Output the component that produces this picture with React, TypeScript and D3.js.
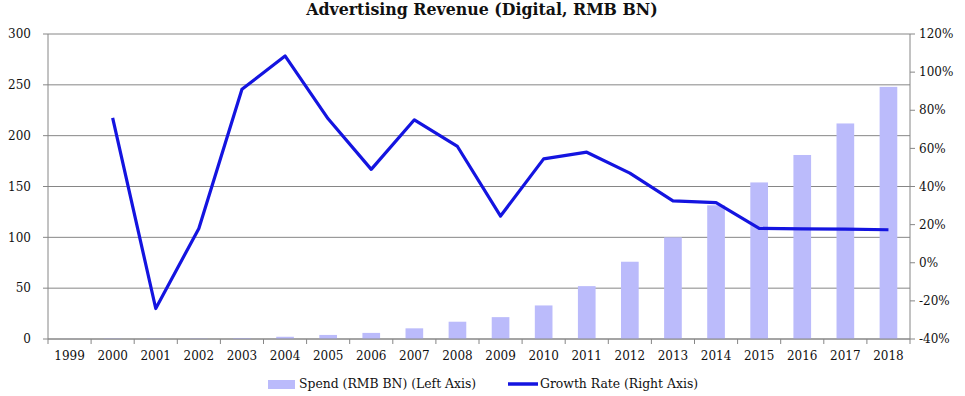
import React from "react";
import * as d3 from "d3";

const years = [
  "1999", "2000", "2001", "2002", "2003", "2004", "2005", "2006", "2007", "2008",
  "2009", "2010", "2011", "2012", "2013", "2014", "2015", "2016", "2017", "2018",
];
const spend = [
  0.1, 0.5, 0.4, 0.5, 1, 2.2, 4, 6, 10.5, 17,
  21.5, 33, 52, 76, 100, 131.5, 154, 181, 212, 248,
];
const growth: (number | null)[] = [
  null, 76, -24, 18, 91, 108.5, 75.5, 49, 75, 61,
  24.5, 54.5, 58, 47, 32.5, 31.5, 18, 17.8, 17.6, 17.3,
];
const leftTicks = [0, 50, 100, 150, 200, 250, 300];
const rightTicks = [-40, -20, 0, 20, 40, 60, 80, 100, 120];

const W = 965;
const H = 396;
const margin = { top: 34, right: 55, bottom: 57, left: 48 };
const font = "'DejaVu Serif', Georgia, serif";
const barColor = "#bbbbfb";
const lineColor = "#1414e0";
const axisColor = "#868686";

export default function App() {
  const x = d3
    .scaleBand()
    .domain(years)
    .range([margin.left, W - margin.right]);
  const yL = d3.scaleLinear().domain([0, 300]).range([H - margin.bottom, margin.top]);
  const yR = d3.scaleLinear().domain([-40, 120]).range([H - margin.bottom, margin.top]);
  const barW = x.bandwidth() * 0.41;

  const pts = years
    .map((y, i) => ({ y, v: growth[i] }))
    .filter((d) => d.v !== null) as { y: string; v: number }[];
  const line = d3
    .line<{ y: string; v: number }>()
    .x((d) => (x(d.y) as number) + x.bandwidth() / 2)
    .y((d) => yR(d.v));

  const x0 = margin.left;
  const x1 = W - margin.right;
  const yBase = H - margin.bottom;

  return (
    <svg
      width={W}
      height={H}
      style={{ position: "absolute", left: 0, top: 0, background: "#fff" }}
      fontFamily={font}
    >
      <text x={482} y={15} textAnchor="middle" fontSize={15.8} fontWeight="bold" fill="#111">
        Advertising Revenue (Digital, RMB BN)
      </text>

      {/* gridlines */}
      {leftTicks.map((t) => (
        <line key={"g" + t} x1={x0} x2={x1} y1={yL(t)} y2={yL(t)} stroke={axisColor} strokeWidth={1} />
      ))}

      {/* bars */}
      {years.map((y, i) => (
        <rect
          key={y}
          x={(x(y) as number) + (x.bandwidth() - barW) / 2}
          y={yL(spend[i])}
          width={barW}
          height={yBase - yL(spend[i])}
          fill={barColor}
        />
      ))}

      {/* left axis */}
      <line x1={x0} x2={x0} y1={margin.top} y2={yBase} stroke={axisColor} />
      {leftTicks.map((t) => (
        <g key={"l" + t}>
          <line x1={x0 - 5} x2={x0} y1={yL(t)} y2={yL(t)} stroke={axisColor} />
          <text x={31} y={yL(t)} dy="0.35em" textAnchor="end" fontSize={12} fill="#111">
            {t}
          </text>
        </g>
      ))}

      {/* right axis */}
      <line x1={x1} x2={x1} y1={margin.top} y2={yBase} stroke={axisColor} />
      {rightTicks.map((t) => (
        <g key={"r" + t}>
          <line x1={x1} x2={x1 + 5} y1={yR(t)} y2={yR(t)} stroke={axisColor} />
          <text x={919} y={yR(t)} dy="0.35em" textAnchor="start" fontSize={12} fill="#111">
            {t + "%"}
          </text>
        </g>
      ))}

      {/* x axis */}
      <line x1={x0} x2={x1} y1={yBase} y2={yBase} stroke={axisColor} />
      {years.map((y) => (
        <g key={"x" + y}>
          <line
            x1={x(y) as number}
            x2={x(y) as number}
            y1={yBase}
            y2={yBase + 5}
            stroke={axisColor}
          />
          <text
            x={(x(y) as number) + x.bandwidth() / 2}
            y={yBase + 21}
            textAnchor="middle"
            fontSize={12}
            fill="#111"
          >
            {y}
          </text>
        </g>
      ))}
      <line x1={x1} x2={x1} y1={yBase} y2={yBase + 5} stroke={axisColor} />

      {/* growth line */}
      <path d={line(pts) || ""} fill="none" stroke={lineColor} strokeWidth={3.2} strokeLinejoin="round" />

      {/* legend */}
      <rect x={268} y={380} width={27} height={9} fill={barColor} />
      <text x={299} y={388} fontSize={12.4} fill="#111">
        Spend (RMB BN) (Left Axis)
      </text>
      <line x1={508} x2={538} y1={384} y2={384} stroke={lineColor} strokeWidth={3.5} />
      <text x={540} y={388} fontSize={12.4} fill="#111">
        Growth Rate (Right Axis)
      </text>
    </svg>
  );
}
